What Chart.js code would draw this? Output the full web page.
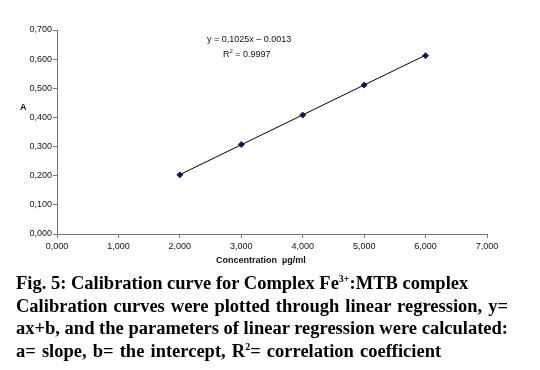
<!DOCTYPE html>
<html>
<head>
<meta charset="utf-8">
<script src="https://cdn.jsdelivr.net/npm/chart.js@4/dist/chart.umd.min.js"></script>
<style>
  body { margin: 0; background: #fff; width: 540px; height: 370px; position: relative; overflow: hidden; }
  #wrap { position: absolute; left: 0; top: 0; width: 540px; height: 270px; }
  .lbl { position: absolute; font-family: "Liberation Sans", Arial, sans-serif; color: #111; white-space: pre; }
  #caption { position: absolute; left: 16px; top: 272px; width: 492px;
    font-family: "Liberation Serif", "Times New Roman", serif; font-weight: bold; font-size: 18.5px;
    line-height: 22.5px; color: #000; }
  #caption .j { display: block; text-align: justify; text-align-last: justify; }
  #caption sup { font-size: 10px; line-height: 0; vertical-align: 7px; }
</style>
</head>
<body>
<div id="wrap"><canvas id="chartCalib"></canvas></div>

<div class="lbl" style="left:20px;top:102px;font-size:9px;font-weight:bold;">A</div>
<div class="lbl" style="left:216px;top:255px;font-size:9px;font-weight:bold;">Concentration  µg/ml</div>
<div class="lbl" style="left:207px;top:34px;font-size:9px;">y = 0,1025x – 0.0013</div>
<div class="lbl" style="left:223px;top:49px;font-size:9px;">R<sup style="font-size:6px;vertical-align:4px;line-height:0">2</sup> = 0.9997</div>

<div id="caption">
  <div>Fig. 5: Calibration curve for Complex Fe<sup>3+</sup>:MTB complex</div>
  <span class="j">Calibration curves were plotted through linear regression, y=</span>
  <span class="j">ax+b, and the parameters of linear regression were calculated:</span>
  <div style="word-spacing:1.5px">a= slope, b= the intercept, R<sup>2</sup>= correlation coefficient</div>
</div>

<script>
// concentrations (shown with comma decimals) and absorbance
const concentrations = [2, 3, 4, 5, 6];
const absorbance = [0.203, 0.307, 0.408, 0.511, 0.612];
// trend line end points (y = 0,1025x - 0.0013)
const trendX = [2, 6];
const trendY = [0.2037, 0.6137];

const fmt = v => v.toFixed(3).replace('.', ',');

const points = concentrations.map((c, i) => ({ x: c, y: absorbance[i] }));
const trend = trendX.map((c, i) => ({ x: c, y: trendY[i] }));

const ctx = document.getElementById('chartCalib').getContext('2d');

new Chart(ctx, {
    type: 'scatter',
    data: {
        datasets: [{
            label: 'Trend',
            data: trend,
            showLine: true,
            borderColor: '#000',
            borderWidth: 1,
            pointRadius: 0
        }, {
            label: 'A',
            data: points,
            pointStyle: 'rectRot',
            pointRadius: 3,
            backgroundColor: '#1c1c6b',
            borderColor: '#1c1c6b',
            borderWidth: 1
        }]
    },
    options: {
        responsive: true,
        maintainAspectRatio: false,
        animation: false,
        layout: { padding: { left: 0, right: 53, top: 30, bottom: 0 } },
        plugins: {
            legend: { display: false },
            tooltip: { enabled: false }
        },
        scales: {
            x: {
                type: 'linear',
                min: 0,
                max: 7,
                afterFit: s => { s.height = 36; },
                border: { color: '#777', width: 1 },
                grid: { display: true, drawOnChartArea: false, drawTicks: true, tickLength: 4, color: '#777' },
                ticks: {
                    stepSize: 1,
                    padding: 3,
                    color: '#111',
                    font: { family: 'Liberation Sans', size: 9 },
                    callback: v => fmt(v)
                }
            },
            y: {
                min: 0,
                max: 0.7,
                afterFit: s => { s.width = 57; },
                border: { color: '#777', width: 1 },
                grid: { display: true, drawOnChartArea: false, drawTicks: true, tickLength: 4, color: '#777' },
                ticks: {
                    stepSize: 0.1,
                    padding: 1,
                    color: '#111',
                    font: { family: 'Liberation Sans', size: 9 },
                    callback: v => fmt(v)
                }
            }
        }
    }
});
</script>
</body>
</html>
